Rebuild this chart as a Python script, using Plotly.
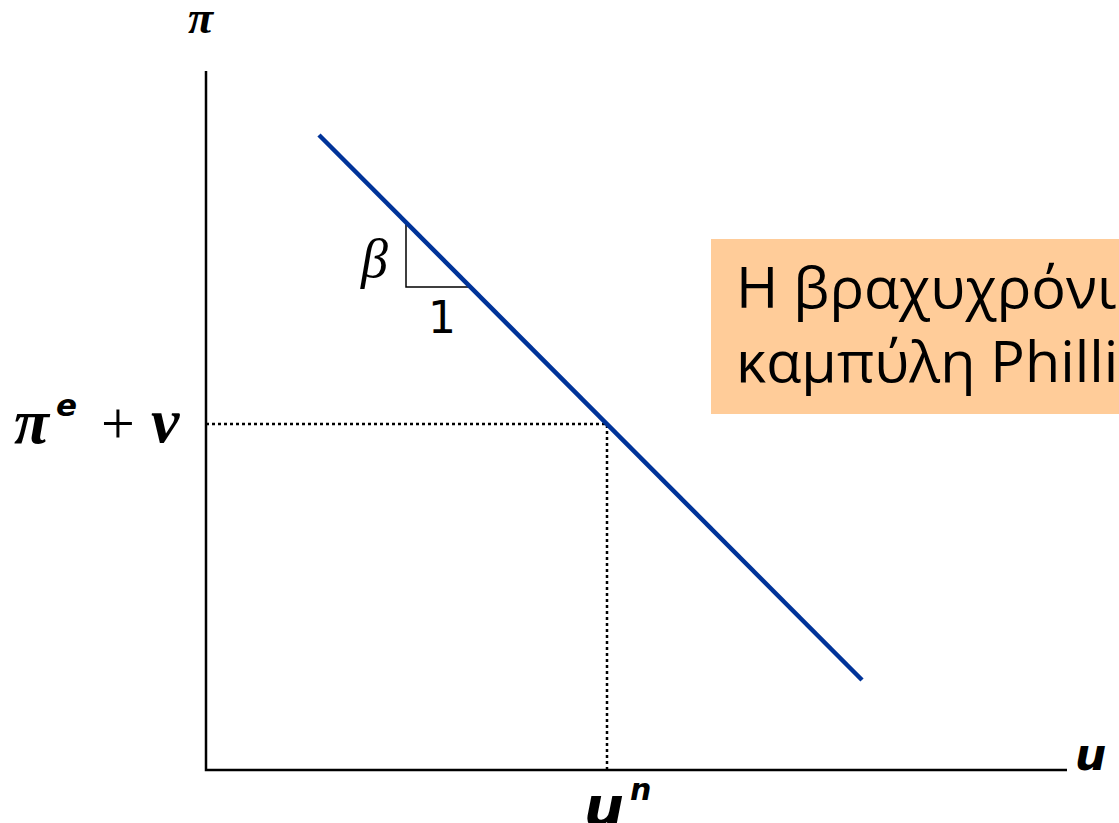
import plotly.graph_objects as go

# ---- data (abstract units: u on horizontal, pi on vertical) ----
axis_u = [0.0, 8.61]          # horizontal axis extent
axis_pi = [0.0, 6.99]         # vertical axis extent
curve_u = [1.13, 6.56]        # short-run Phillips curve endpoints
curve_pi = [6.35, 0.90]
u_n = 4.01                    # natural rate of unemployment
pi_n = 3.46                   # pi^e + v
tri_u = [2.00, 2.00, 2.64]    # slope triangle (vertical leg, then horizontal leg)
tri_pi = [5.47, 4.83, 4.83]
box_u = [5.05, 9.40]          # label box extent
box_pi = [3.56, 5.31]
box_lines = ["Η βραχυχρόνια", "καμπύλη Phillips"]

fig = go.Figure()

# axes
fig.add_trace(go.Scatter(x=[axis_u[0], axis_u[0], axis_u[1]],
                         y=[axis_pi[1], axis_pi[0], axis_pi[0]],
                         mode="lines", line=dict(color="black", width=2.5),
                         hoverinfo="skip"))
# dotted guides
fig.add_trace(go.Scatter(x=[axis_u[0], u_n, u_n], y=[pi_n, pi_n, axis_pi[0]],
                         mode="lines", line=dict(color="black", width=2.5, dash="3px,3px"),
                         hoverinfo="skip"))
# slope triangle
fig.add_trace(go.Scatter(x=tri_u, y=tri_pi, mode="lines",
                         line=dict(color="black", width=1.5), hoverinfo="skip"))
# Phillips curve
fig.add_trace(go.Scatter(x=curve_u, y=curve_pi, mode="lines",
                         line=dict(color="#003399", width=4.5), hoverinfo="skip"))

fig.add_shape(type="rect", x0=box_u[0], x1=box_u[1], y0=box_pi[0], y1=box_pi[1],
              xref="x", yref="y", fillcolor="#FFCC99", line=dict(width=0), layer="below")

serif = "Liberation Serif"
sans = "DejaVu Sans"
ann = []


def label(x, y, text, family, size, xanchor="center"):
    ann.append(dict(x=x, y=y, text=text, font=dict(family=family, size=size, color="black"),
                    xanchor=xanchor, yanchor="middle", showarrow=False))


# pi axis label
label(axis_u[0] - 0.05, axis_pi[1] + 0.54, "<b><i>π</i></b>", serif, 46)
# u axis label
label(axis_u[1] + 0.23, axis_pi[0] + 0.16, "<b><i>u</i></b>", sans, 44)
# u^n label
label(u_n - 0.03, axis_pi[0] - 0.36, "<b><i>u</i></b>", sans, 56)
label(u_n + 0.33, axis_pi[0] - 0.19, "<b><i>n</i></b>", sans, 30)
# pi^e + v label (pieces)
label(axis_u[0] - 1.735, pi_n + 0.025, "<b><i>π</i></b>", serif, 64)
label(axis_u[0] - 1.395, pi_n + 0.19, "<b><i>e</i></b>", sans, 31)
label(axis_u[0] - 0.885, pi_n + 0.015, "+", serif, 60)
label(axis_u[0] - 0.405, pi_n + 0.035, "<b><i>ν</i></b>", serif, 64)
# beta and 1
label(tri_u[0] - 0.325, (tri_pi[0] + tri_pi[1]) / 2 - 0.043, "<i>β</i>", serif, 54)
label((tri_u[1] + tri_u[2]) / 2 + 0.035, tri_pi[1] - 0.305, "1", sans, 44)
# box text
label(box_u[0] + 0.23, box_pi[1] - 0.47, box_lines[0], "Open Sans", 57.5, xanchor="left")
label(box_u[0] + 0.23, box_pi[1] - 1.21, box_lines[1], "Open Sans", 57.5, xanchor="left")

fig.update_layout(
    width=1119, height=823, margin=dict(l=0, r=0, t=0, b=0, pad=0),
    paper_bgcolor="white", plot_bgcolor="white", showlegend=False,
    xaxis=dict(range=[-2.06, 9.13], visible=False, fixedrange=True),
    yaxis=dict(range=[-0.53, 7.70], visible=False, fixedrange=True),
    annotations=ann,
)

fig.write_html("out.html", config={"displayModeBar": False},
               post_script="document.body.style.margin='0';")
